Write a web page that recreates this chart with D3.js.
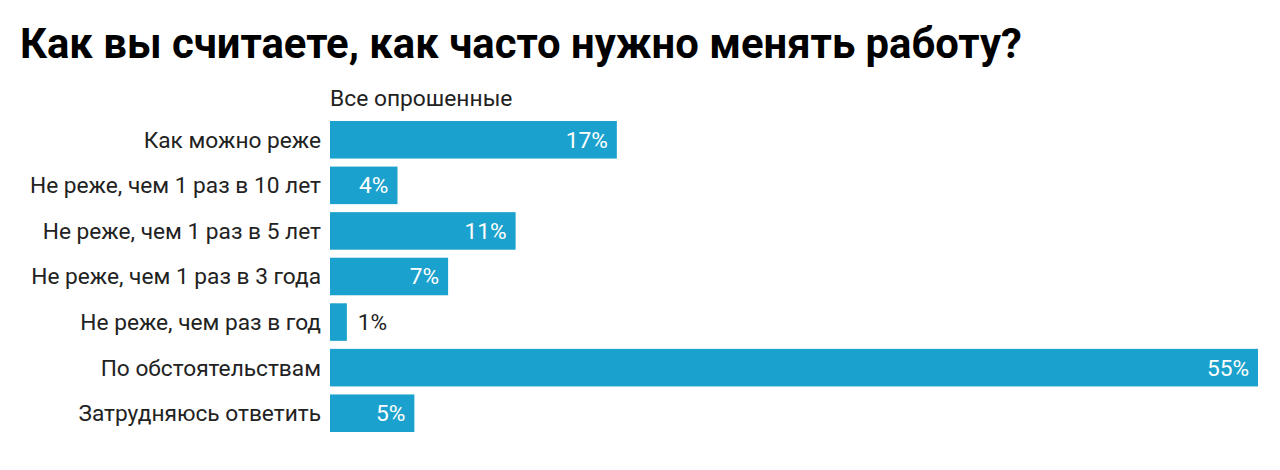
<!DOCTYPE html>
<html><head><meta charset="utf-8">
<script src="https://cdn.jsdelivr.net/npm/d3@7"></script>
<style>body{margin:0;background:#fff;font-family:Roboto,"Noto Sans",sans-serif;}</style>
</head><body>
<svg id="chart" width="1280" height="470"></svg>
<script>
const title = "Как вы считаете, как часто нужно менять работу?";
const seriesName = "Все опрошенные";
const categories = ["Как можно реже","Не реже, чем 1 раз в 10 лет","Не реже, чем 1 раз в 5 лет","Не реже, чем 1 раз в 3 года","Не реже, чем раз в год","По обстоятельствам","Затрудняюсь ответить"];
const values = [17,4,11,7,1,55,5];

const svg = d3.select("#chart");
const x = d3.scaleLinear().domain([0,55]).range([330,1258]);
const y = d3.scaleBand().domain(categories).range([121,432]).paddingInner(0.176).paddingOuter(0);

svg.append("text").attr("x",20).attr("y",58).attr("font-size",41.8).attr("font-weight",700).attr("fill","#000").text(title);
svg.append("text").attr("x",330).attr("y",106).attr("font-size",22.8).attr("fill","#222").text(seriesName);

const g = svg.append("g");
g.selectAll("rect").data(values).join("rect")
  .attr("x",x(0)).attr("y",(d,i)=>y(categories[i]))
  .attr("width",d=>x(d)-x(0)).attr("height",y.bandwidth()).attr("fill","#1ba1cd");

g.selectAll("text.cat").data(categories).join("text").attr("class","cat")
  .attr("x",321).attr("y",d=>y(d)+y.bandwidth()/2).attr("dy","0.35em")
  .attr("text-anchor","end").attr("font-size",22.7).attr("fill","#222").text(d=>d);

g.selectAll("text.val").data(values).join("text").attr("class","val")
  .attr("x",d=> (x(d)-x(0) > 40) ? x(d)-9 : x(d)+11)
  .attr("y",(d,i)=>y(categories[i])+y.bandwidth()/2).attr("dy","0.35em")
  .attr("text-anchor",d=> (x(d)-x(0) > 40) ? "end":"start")
  .attr("font-size",22.7).attr("fill",d=> (x(d)-x(0) > 40) ? "#fff":"#222").text(d=>d+"%");
</script>
</body></html>
